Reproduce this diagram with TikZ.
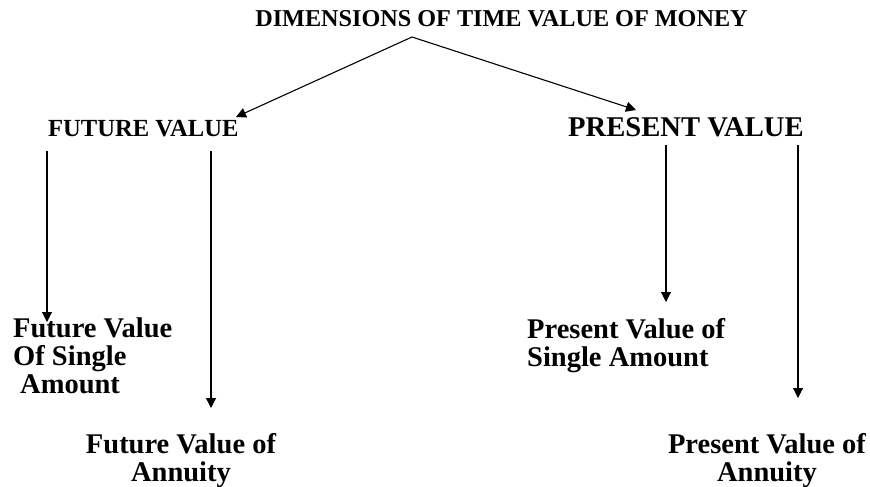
\documentclass[tikz,border=0pt]{standalone}
\usepackage{fontspec}
\setmainfont{Liberation Serif}
\usetikzlibrary{arrows.meta}
\tikzset{head/.style = {font=\bfseries\fontsize{24.6}{24}\selectfont, inner sep=0pt}}
\tikzset{item/.style = {font=\bfseries\fontsize{28.5}{28}\selectfont, inner sep=0pt}}
\tikzset{link/.style = {-{Triangle[length=10pt, width=10pt]}, line width=1.1pt}}

\begin{document}
\begin{tikzpicture}[x=1pt, y=-1pt]
\useasboundingbox (0,0) rectangle (870,487);
\node [head, anchor=base, font=\bfseries\fontsize{24.2}{24}\selectfont] (dim) at (501.5,27) {DIMENSIONS OF TIME VALUE OF MONEY};
\node [head, anchor=base west] (fv) at (48,136) {FUTURE VALUE};
\node [head, anchor=base west, font=\bfseries\fontsize{28.6}{28}\selectfont] (pv) at (568,136) {PRESENT VALUE};
\node [item, anchor=north west, align=left] (fvs) at (13,318) {Future Value\\Of Single\\\hspace*{7pt}Amount};
\node [item, anchor=north, align=center] (fva) at (181,433) {Future Value of\\Annuity};
\node [item, anchor=north west, align=left] (pvs) at (527,318) {Present Value of\\Single Amount};
\node [item, anchor=north, align=center] (pva) at (767,433) {Present Value of\\Annuity};
% arrow ends
\coordinate (top) at (412,37);
\coordinate (fvin) at (236,117);
\coordinate (pvin) at (636,110);
\coordinate (fv1) at (47,151);
\coordinate (fv2) at (211,151);
\coordinate (pv1) at (666,145);
\coordinate (pv2) at (798,145);
\coordinate (fvs-in) at (47,322);
\coordinate (fva-in) at (211,408);
\coordinate (pvs-in) at (666,302);
\coordinate (pva-in) at (798,398);
\draw [link] (top) -- (fvin);
\draw [link] (top) -- (pvin);
\draw [link] (fv1) -- (fvs-in);
\draw [link] (fv2) -- (fva-in);
\draw [link] (pv1) -- (pvs-in);
\draw [link] (pv2) -- (pva-in);
\end{tikzpicture}
\end{document}
